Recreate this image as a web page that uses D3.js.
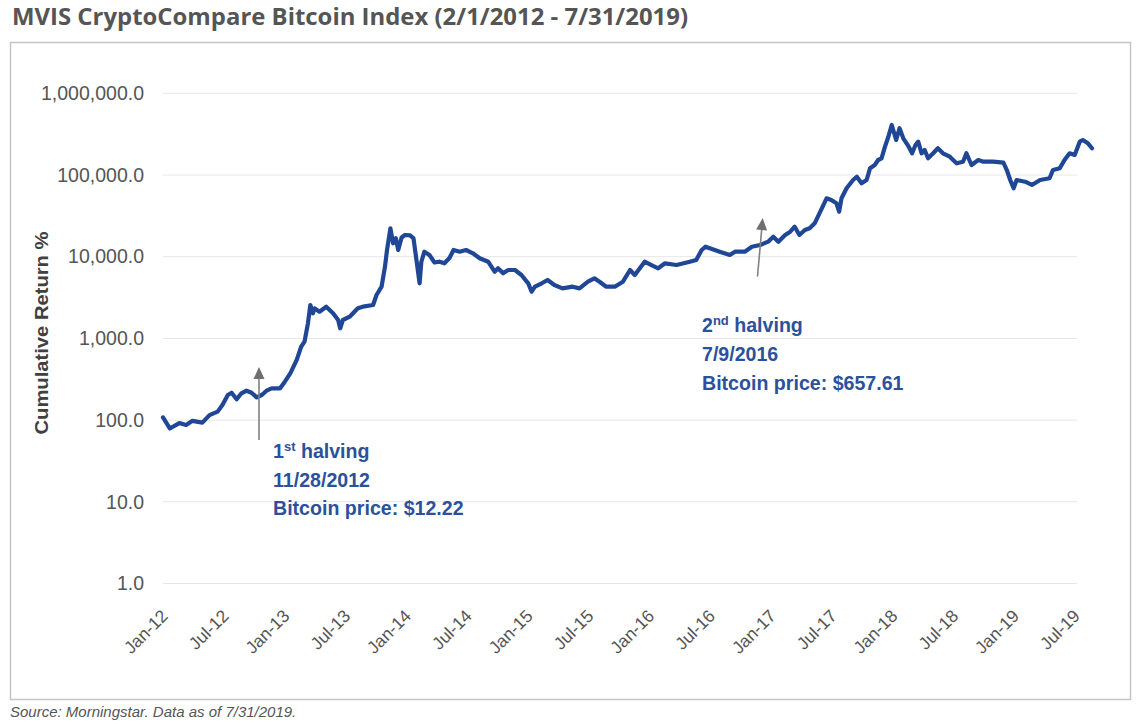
<!DOCTYPE html>
<html>
<head>
<meta charset="utf-8">
<script src="https://cdn.jsdelivr.net/npm/d3@7"></script>
<style>
  html, body { margin: 0; padding: 0; background: #ffffff; }
  svg { display: block; }
</style>
</head>
<body>
<svg id="chart" width="1144" height="724"></svg>
<script>
// ---------------- DATA ----------------
const chartTitle = "MVIS CryptoCompare Bitcoin Index (2/1/2012 - 7/31/2019)";
const yAxisTitle = "Cumulative Return %";
const sourceNote = "Source: Morningstar. Data as of 7/31/2019.";

const xTickLabels = ["Jan-12","Jul-12","Jan-13","Jul-13","Jan-14","Jul-14","Jan-15","Jul-15",
                     "Jan-16","Jul-16","Jan-17","Jul-17","Jan-18","Jul-18","Jan-19","Jul-19"];
const yTickValues = [1, 10, 100, 1000, 10000, 100000, 1000000];

const dates = [
"2012-02-01","2012-02-21","2012-03-20","2012-04-09","2012-04-28","2012-05-27","2012-06-17","2012-07-11","2012-07-25","2012-08-10",
"2012-08-21","2012-09-05","2012-09-19","2012-10-04","2012-10-19","2012-11-03","2012-11-18","2012-12-02","2012-12-17","2013-01-11",
"2013-01-25","2013-02-10","2013-03-01","2013-03-14","2013-03-24","2013-04-03","2013-04-10","2013-04-18","2013-04-22","2013-05-07",
"2013-05-27","2013-06-16","2013-07-01","2013-07-07","2013-07-15","2013-08-04","2013-08-28","2013-09-12","2013-10-12","2013-10-22",
"2013-11-06","2013-11-16","2013-11-22","2013-12-02","2013-12-10","2013-12-18","2013-12-25","2014-01-04","2014-01-14","2014-01-29",
"2014-02-08","2014-02-18","2014-02-26","2014-03-03","2014-03-12","2014-03-27","2014-04-11","2014-04-26","2014-05-10","2014-05-25",
"2014-06-06","2014-06-24","2014-07-13","2014-08-02","2014-08-22","2014-09-16","2014-10-05","2014-10-15","2014-10-30","2014-11-14",
"2014-12-04","2014-12-23","2015-01-12","2015-01-22","2015-02-01","2015-02-21","2015-03-10","2015-03-30","2015-04-23","2015-05-23",
"2015-06-12","2015-07-07","2015-07-26","2015-08-10","2015-08-30","2015-09-24","2015-10-18","2015-11-08","2015-11-22","2015-12-21",
"2016-01-10","2016-01-30","2016-02-19","2016-03-24","2016-05-02","2016-05-21","2016-06-06","2016-06-17","2016-06-30","2016-07-29",
"2016-08-28","2016-09-12","2016-10-11","2016-11-01","2016-11-25","2016-12-19","2017-01-03","2017-01-18","2017-02-07","2017-02-22",
"2017-03-07","2017-03-21","2017-04-06","2017-04-20","2017-05-05","2017-05-19","2017-06-09","2017-06-23","2017-07-08","2017-07-16",
"2017-07-23","2017-08-07","2017-08-26","2017-09-06","2017-09-20","2017-10-05","2017-10-15","2017-10-29","2017-11-08","2017-11-18",
"2017-11-28","2017-12-08","2017-12-18","2017-12-31","2018-01-10","2018-01-21","2018-02-06","2018-02-16","2018-02-26","2018-03-06",
"2018-03-16","2018-03-25","2018-04-04","2018-04-19","2018-05-03","2018-05-18","2018-06-07","2018-06-27","2018-07-16","2018-07-26",
"2018-08-10","2018-08-30","2018-09-14","2018-10-13","2018-11-12","2018-11-22","2018-12-02","2018-12-12","2018-12-21","2019-01-15",
"2019-02-04","2019-02-28","2019-03-28","2019-04-07","2019-04-27","2019-05-11","2019-05-26","2019-06-10","2019-06-25","2019-07-04",
"2019-07-19","2019-07-31"
];
const values = [
108,79,92,87,98,93,115,127,153,203,
216,180,213,229,216,190,203,229,245,245,
295,374,545,791,912,1531,2563,2028,2335,2122,
2444,2028,1680,1330,1680,1845,2335,2444,2563,3398,
4295,7551,12080,22280,14590,16790,12080,17180,18450,18200,
16790,8300,4725,8610,11510,10490,8490,8690,8300,9640,
12080,11510,12080,11010,9560,8690,6550,7210,6270,6870,
6870,5970,4725,3730,4295,4725,5190,4510,4100,4295,
4100,4945,5440,4945,4295,4295,4945,6870,5970,8690,
7910,7210,8300,7910,8690,9120,12080,13250,12670,11510,
10490,11510,11510,13250,13900,15270,17580,15270,18450,20230,
23290,18450,21230,22280,25640,33970,51860,49440,45080,35580,
51860,68710,86860,95300,79110,86860,120800,132500,152600,160000,
222000,294200,409400,268400,373200,281300,222000,184400,232900,255700,
184400,202300,160000,184400,212300,184400,167500,139000,145600,184400,
132500,152600,145600,145600,141500,115100,86860,68710,86860,82800,
75510,86860,91200,115100,120800,152600,184400,175800,255700,268000,
244300,212300
];

const annotationLines = [
  [{main: "1", sup: "st", rest: " halving"}, "11/28/2012", "Bitcoin price: $12.22"],
  [{main: "2", sup: "nd", rest: " halving"}, "7/9/2016", "Bitcoin price: $657.61"]
];

// ---------------- LAYOUT ----------------
const svg = d3.select("#chart");
const parse = d3.timeParse("%Y-%m-%d");
const series = dates.map((d, i) => ({date: parse(d), value: values[i]}));

const plot = {left: 163, right: 1077, top: 93.3, bottom: 583.5, lineEnd: 1092};

const x = d3.scaleTime()
  .domain([parse("2012-02-01"), parse("2019-07-31")])
  .range([plot.left, plot.lineEnd]);
const xCat = d3.scalePoint().domain(xTickLabels).range([plot.left + 2, plot.right]);
const y = d3.scaleLog().domain([1, 1000000]).range([plot.bottom, plot.top]);

const FONT = "'Liberation Sans', Arial, Helvetica, sans-serif";

// frame
svg.append("rect")
  .attr("x", 10.5).attr("y", 42.5).attr("width", 1120).attr("height", 657)
  .attr("fill", "none").attr("stroke", "#c4c4c4").attr("stroke-width", 1.5);

// title
svg.append("text")
  .attr("x", 12).attr("y", 25)
  .attr("font-family", "'Open Sans', sans-serif")
  .attr("font-weight", 700).attr("font-size", 23)
  .attr("fill", "#555555")
  .attr("textLength", 676).attr("lengthAdjust", "spacingAndGlyphs")
  .text(chartTitle);

// gridlines
svg.append("g").selectAll("line").data(yTickValues).join("line")
  .attr("x1", plot.left).attr("x2", plot.right)
  .attr("y1", d => y(d)).attr("y2", d => y(d))
  .attr("stroke", "#e6e6e6").attr("stroke-width", 1);

// y axis labels
const yAxis = d3.axisLeft(y).tickValues(yTickValues).tickFormat(d3.format(",.1f")).tickSize(0).tickPadding(0);
const gy = svg.append("g").attr("transform", "translate(144,0)").call(yAxis);
gy.select(".domain").remove();
gy.selectAll("text")
  .attr("font-family", FONT).attr("font-size", 19.5).attr("fill", "#555555");

// y axis title
svg.append("text")
  .attr("transform", "translate(41,333) rotate(-90)")
  .attr("text-anchor", "middle").attr("dy", "0.35em")
  .attr("font-family", FONT).attr("font-weight", 700).attr("font-size", 19)
  .attr("fill", "#404040")
  .attr("textLength", 203).attr("lengthAdjust", "spacingAndGlyphs")
  .text(yAxisTitle);

// x axis labels
const xAxis = d3.axisBottom(xCat).tickSize(0).tickPadding(0);
const gx = svg.append("g").call(xAxis);
gx.select(".domain").remove();
gx.selectAll(".tick").attr("transform", null);
gx.selectAll(".tick text")
  .attr("transform", d => `translate(${xCat(d) + 4},617) rotate(-45)`)
  .attr("text-anchor", "end").attr("x", 0).attr("y", 0).attr("dy", 0)
  .attr("font-family", FONT).attr("font-size", 17.5).attr("fill", "#555555");

// line
const line = d3.line().x(d => x(d.date)).y(d => y(d.value)).curve(d3.curveLinear);
svg.append("path").datum(series)
  .attr("d", line)
  .attr("fill", "none").attr("stroke", "#1f4795").attr("stroke-width", 4.2)
  .attr("stroke-linejoin", "round").attr("stroke-linecap", "round");

// arrows
const arrows = [
  {x1: 259, y1: 440, x2: 259, y2: 367},
  {x1: 757.5, y1: 276.5, x2: 762.7, y2: 218}
];
arrows.forEach(a => {
  const ang = Math.atan2(a.y2 - a.y1, a.x2 - a.x1);
  const hl = 12, hw = 5.5;
  const bx = a.x2 - hl * Math.cos(ang), by = a.y2 - hl * Math.sin(ang);
  svg.append("line")
    .attr("x1", a.x1).attr("y1", a.y1).attr("x2", bx).attr("y2", by)
    .attr("stroke", "#808080").attr("stroke-width", 1.6);
  const px = -Math.sin(ang), py = Math.cos(ang);
  svg.append("polygon")
    .attr("points", [[a.x2, a.y2], [bx + hw * px, by + hw * py], [bx - hw * px, by - hw * py]].map(p => p.join(",")).join(" "))
    .attr("fill", "#6f6f6f");
});

// annotation texts
const annotPos = [
  {x: 273, y: [458, 487, 515]},
  {x: 702, y: [332, 361, 390]}
];
annotationLines.forEach((lines, i) => {
  const p = annotPos[i];
  lines.forEach((ln, j) => {
    const t = svg.append("text")
      .attr("x", p.x).attr("y", p.y[j])
      .attr("font-family", FONT).attr("font-weight", 700).attr("font-size", 19.6)
      .attr("fill", "#2c519b");
    if (typeof ln === "string") {
      t.text(ln);
    } else {
      t.append("tspan").text(ln.main);
      t.append("tspan").attr("font-size", 13).attr("dy", -7).text(ln.sup);
      t.append("tspan").attr("dy", 7).text(ln.rest);
    }
  });
});

// source
svg.append("text")
  .attr("x", 10).attr("y", 717)
  .attr("font-family", FONT).attr("font-style", "italic").attr("font-size", 15)
  .attr("fill", "#555555")
  .text(sourceNote);
</script>
</body>
</html>
